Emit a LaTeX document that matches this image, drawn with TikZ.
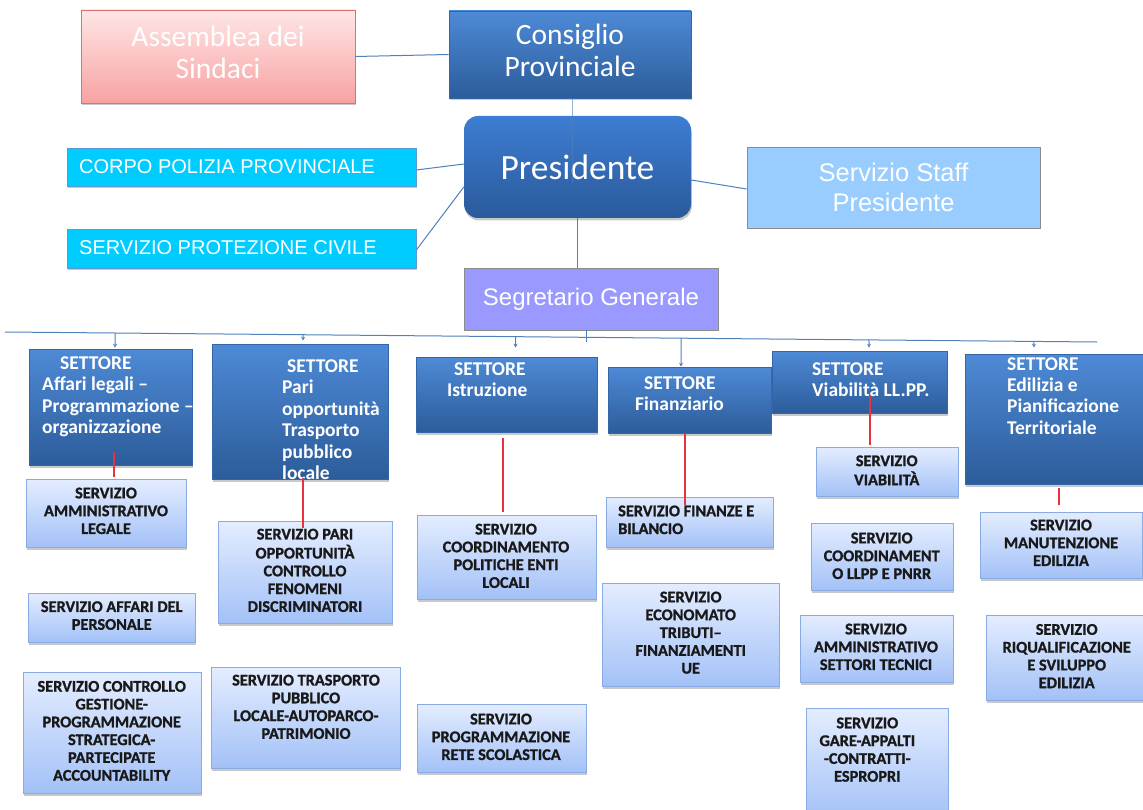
\documentclass[tikz,border=0pt]{standalone}
\usepackage{fontspec}
\setmainfont{Liberation Sans}
\newfontfamily\calfam{Carlito}
\newfontfamily\calsv[FakeBold=1.2]{Carlito Bold}
\usetikzlibrary{calc,shadows,arrows.meta}
\definecolor{lineblue}{HTML}{4F81BD}
\definecolor{redc}{HTML}{E8323C}
\definecolor{dktop}{HTML}{4E8AD6}
\definecolor{dkbot}{HTML}{2C5C9A}
\definecolor{dkborder}{HTML}{3466A8}
\definecolor{prtop}{HTML}{3E7DD2}
\definecolor{prbot}{HTML}{2A5A9B}
\definecolor{svctop}{HTML}{E4EDFF}
\definecolor{svcbot}{HTML}{A3C1F7}
\definecolor{svcborder}{HTML}{8AAAE3}
\definecolor{pinktop}{HTML}{FEE6E6}
\definecolor{pinkbot}{HTML}{F8A2A2}
\definecolor{pinkborder}{HTML}{E07070}
\definecolor{cyanfill}{HTML}{00CCFF}
\definecolor{cyanborder}{HTML}{5B9BD5}
\definecolor{stafffill}{HTML}{99CCFF}
\definecolor{segfill}{HTML}{9999FF}
\definecolor{grayborder}{HTML}{8C8C8C}
\newcommand\tabC[1]{\begin{tabular}{@{}c@{}}#1\end{tabular}}
\newcommand\tabLc[1]{\begin{tabular}{@{}l@{}}#1\end{tabular}}
\newcommand\tabLt[1]{\begin{tabular}[t]{@{}l@{}}#1\end{tabular}}
\newcommand\stfont{\calfam\bfseries\fontsize{19.5}{21.5}\selectfont}
\newcommand\svfont{\calsv\fontsize{16.3}{17.8}\selectfont}
\tikzset{
  ln/.style={draw=lineblue, line width=1pt},
  redln/.style={draw=redc, line width=1.2pt},
  arr/.style={ln, -{Stealth[length=4pt,width=4pt]}},
  shad/.style={drop shadow={shadow xshift=0.8pt, shadow yshift=-2.5pt, opacity=0.3, fill=black!70}},
  dk/.style={draw=dkborder, line width=0.6pt, top color=dktop, bottom color=dkbot, shad, inner sep=0pt},
  svc/.style={draw=svcborder, line width=0.8pt, top color=svctop, bottom color=svcbot, shad, inner sep=0pt},
  settext/.style={text=white, font=\stfont, anchor=base west, inner sep=0pt},
  svctext/.style={text=black!90, font=\svfont, inner sep=0pt},
}
\begin{document}
\begin{tikzpicture}[x=1pt,y=-1pt]
\useasboundingbox (0,0) rectangle (1143,810);
\fill[white] (0,0) rectangle (1143,810);
\clip (0,0) rectangle (1143,810);

% ---- top level ----
\node[draw=pinkborder, line width=0.8pt, top color=pinktop, bottom color=pinkbot, shad, inner sep=0pt,
      minimum width=274pt, minimum height=93pt, text=white, font=\calfam\fontsize{29.5}{32}\selectfont]
  (ass) at (218,56.5) {\tabC{Assemblea dei\\Sindaci}};
\node[dk, minimum width=242pt, minimum height=87pt, text=white, font=\calfam\fontsize{29.5}{32}\selectfont]
  (cons) at (570,54.5) {\tabC{Consiglio\\Provinciale}};
\node[draw=none, top color=prtop, bottom color=prbot, shad, rounded corners=14pt, inner sep=0pt,
      minimum width=227pt, minimum height=102pt, text=white, font=\calfam\fontsize{35.5}{40}\selectfont]
  (pres) at (577.5,167) {Presidente};
\node[draw=cyanborder, line width=0.6pt, fill=cyanfill, shad, inner sep=0pt, minimum width=348.5pt, minimum height=38pt]
  (corpo) at (241.75,167) {};
\node[text=white, font=\fontsize{20}{24}\selectfont, anchor=base west, inner sep=0pt]
  (corpot) at (79,174) {CORPO POLIZIA PROVINCIALE};
\node[draw=cyanborder, line width=0.6pt, fill=cyanfill, shad, inner sep=0pt, minimum width=348.5pt, minimum height=39pt]
  (prot) at (241.75,248.5) {};
\node[text=white, font=\fontsize{20}{24}\selectfont, anchor=base west, inner sep=0pt]
  (prott) at (79,255) {SERVIZIO PROTEZIONE CIVILE};
\node[draw=grayborder, line width=0.8pt, fill=stafffill, inner sep=0pt, minimum width=293pt, minimum height=81pt]
  (staff) at (893.5,187.5) {};
\node[text=white, font=\fontsize{25.5}{29.5}\selectfont, inner sep=0pt]
  (stafft) at (893.5,190.5) {\tabC{Servizio Staff\\Presidente}};
\node[draw=grayborder, line width=0.8pt, fill=segfill, inner sep=0pt, minimum width=254pt, minimum height=62pt,
      text=white, font=\fontsize{24}{28}\selectfont]
  (seg) at (591,299) {Segretario Generale};

% top connectors
\draw[ln] (ass.east) -- (cons.west);
\draw[ln, opacity=0.6] ($(cons.south)+(2,0)$) -- ($(pres.center)+(-5.5,16)$);
\draw[ln] (pres.south) -- (pres.south |- seg.north);
\draw[ln] ($(corpo.east)+(0,3)$) -- ($(pres.west)+(0,-3)$);
\draw[ln] ($(prot.east)+(0,1.5)$) -- ($(pres.west)+(0,20)$);
\draw[ln] ($(pres.east)+(0,13)$) -- ($(staff.west)+(0,1.5)$);

% ---- settori ----
\node[dk, minimum width=163pt, minimum height=116pt] (s1) at (110.5,407) {};
\node[dk, minimum width=176pt, minimum height=135pt] (s2) at (300,411.5) {};
\node[dk, minimum width=181pt, minimum height=75pt] (s3) at (506.5,394.5) {};
\node[dk, minimum width=163pt, minimum height=66pt] (s4) at (689.5,400) {};
\node[dk, minimum width=175pt, minimum height=62pt] (s5) at (859.5,382) {};
\node[dk, minimum width=183pt, minimum height=130pt] (s6) at (1056.5,419) {};

\node[settext] (s1t) at (42,369) {\tabLt{\hspace{18pt}SETTORE\\Affari legali –\\Programmazione –\\organizzazione}};
\node[settext] (s2t) at (282,372) {\tabLt{\hspace{5pt}SETTORE\\Pari\\opportunità\\Trasporto\\pubblico\\locale}};
\node[settext] (s3t) at (447,375) {\tabLt{\hspace{7pt}SETTORE\\Istruzione}};
\node[settext] (s4t) at (635,389) {\tabLt{\hspace{9pt}SETTORE\\Finanziario}};
\node[settext] (s5t) at (812,375) {\tabLt{SETTORE\\Viabilità LL.PP.}};
\node[settext] (s6t) at (1007,370) {\tabLt{SETTORE\\Edilizia e\\Pianificazione\\Territoriale}};

% horizontal distribution line
\coordinate (hl) at (5,332);
\coordinate (hr) at (1097,342);
\draw[ln] (hl) -- (hr);
\draw[ln] ($(seg.south)+(-5,0)$) -- ++(0,12);
\coordinate (p1) at ($(s1.north)+(4.5,-1)$);
\coordinate (p2) at ($(s2.north)+(3,-3)$);
\coordinate (p3) at ($(s3.north)+(9,-9)$);
\coordinate (p4) at ($(s4.north)+(-8.5,0)$);
\coordinate (p5) at ($(s5.north)+(9.5,-3)$);
\coordinate (p6) at ($(s6.north)+(-22.5,-6)$);
\foreach \p in {p1,p2,p3,p4,p5,p6}
  \draw[arr] ($(hl)!(\p)!(hr)$) -- (\p);

% ---- servizi ----
\node[svc, minimum width=160pt, minimum height=68pt] (a1) at (106,513) {};
\node[svc, minimum width=167pt, minimum height=49pt] (a2) at (111.5,617.5) {};
\node[svc, minimum width=178pt, minimum height=121pt] (a3) at (112,732.5) {};
\node[svc, minimum width=174pt, minimum height=102pt] (b1) at (305,572) {};
\node[svc, minimum width=189pt, minimum height=101pt] (b2) at (305.5,717.5) {};
\node[svc, minimum width=179pt, minimum height=84pt] (c1) at (506.5,557) {};
\node[svc, minimum width=169pt, minimum height=68pt] (c2) at (501.5,738) {};
\node[svc, minimum width=167pt, minimum height=50pt] (d1) at (689.5,522) {};
\node[svc, minimum width=177pt, minimum height=103pt] (d2) at (690.5,634.5) {};
\node[svc, minimum width=142pt, minimum height=49pt] (e1) at (887,471.5) {};
\node[svc, minimum width=142pt, minimum height=67pt] (e2) at (882,556.5) {};
\node[svc, minimum width=153pt, minimum height=67pt] (e3) at (876.5,648.5) {};
\node[svc, minimum width=142pt, minimum height=112pt] (e4) at (877,764) {};
\node[svc, minimum width=162pt, minimum height=66pt] (f1) at (1061,545) {};
\node[svc, minimum width=161pt, minimum height=85pt] (f2) at (1066.5,657.5) {};

\node[svctext] (a1t) at (106,512.6) {\tabC{SERVIZIO\\AMMINISTRATIVO\\LEGALE}};
\node[svctext] (a2t) at (111.7,617.3) {\tabC{SERVIZIO AFFARI DEL\\PERSONALE}};
\node[svctext] (a3t) at (111.7,732.6) {\tabC{SERVIZIO CONTROLLO\\GESTIONE-\\PROGRAMMAZIONE\\STRATEGICA-\\PARTECIPATE\\ACCOUNTABILITY}};
\node[svctext] (b1t) at (305,572.1) {\tabC{SERVIZIO PARI\\OPPORTUNITÀ\\CONTROLLO\\FENOMENI\\DISCRIMINATORI}};
\node[svctext] (b2t) at (306,708.6) {\tabC{SERVIZIO TRASPORTO\\PUBBLICO\\LOCALE-AUTOPARCO-\\PATRIMONIO}};
\node[svctext] (c1t) at (506,557.6) {\tabC{SERVIZIO\\COORDINAMENTO\\POLITICHE ENTI\\LOCALI}};
\node[svctext] (c2t) at (501,738.6) {\tabC{SERVIZIO\\PROGRAMMAZIONE\\RETE SCOLASTICA}};
\node[svctext, anchor=west] (d1t) at (618,521.6) {\tabLc{SERVIZIO FINANZE E\\BILANCIO}};
\node[svctext] (d2t) at (690.7,634.4) {\tabC{SERVIZIO\\ECONOMATO\\TRIBUTI–\\FINANZIAMENTI\\UE}};
\node[svctext] (e1t) at (886.7,472.1) {\tabC{SERVIZIO\\VIABILITÀ}};
\node[svctext] (e2t) at (881.7,557.6) {\tabC{SERVIZIO\\COORDINAMENT\\O LLPP E PNRR}};
\node[svctext] (e3t) at (876,648.6) {\tabC{SERVIZIO\\AMMINISTRATIVO\\SETTORI TECNICI}};
\node[svctext] (e4t) at (867.3,751.4) {\tabC{SERVIZIO\\GARE-APPALTI\\-CONTRATTI-\\ESPROPRI}};
\node[svctext] (f1t) at (1061,544.6) {\tabC{SERVIZIO\\MANUTENZIONE\\EDILIZIA}};
\node[svctext] (f2t) at (1066.7,657.9) {\tabC{SERVIZIO\\RIQUALIFICAZIONE\\E SVILUPPO\\EDILIZIA}};

% red connectors
\draw[redln] ($(s1.south)+(3.5,-13)$) -- ($(s1.south |- a1.north)+(3.5,-2)$);
\draw[redln] ($(s2.south)+(3,-1)$) -- ($(s2.south |- b1.north)+(3,7)$);
\draw[redln] ($(s3.south)+(-3.5,6)$) -- ($(s3.south |- c1.north)+(-3.5,-3)$);
\draw[redln] ($(s4.south)+(-4.5,0)$) -- ($(s4.south |- d1.north)+(-4.5,8)$);
\draw[redln] ($(s5.south)+(10.5,-18)$) -- ($(s5.south |- e1.north)+(10.5,-2)$);
\draw[redln] ($(s6.south)+(2.5,4)$) -- ($(s6.south |- f1.north)+(2.5,-7)$);
\end{tikzpicture}
\end{document}
